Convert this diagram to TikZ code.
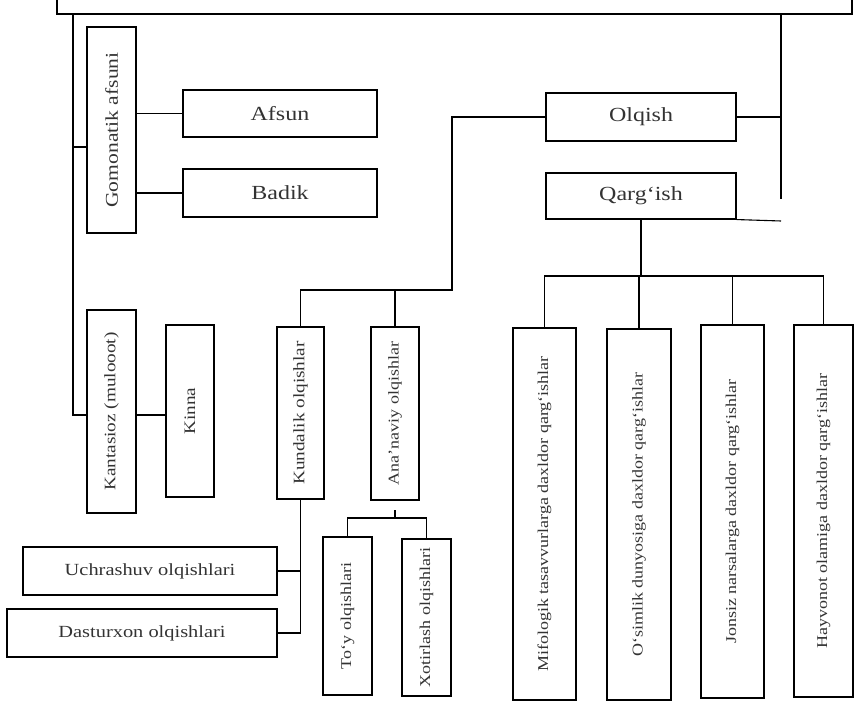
\documentclass[tikz,border=0pt]{standalone}
\usepackage{fontspec}
\setmainfont[FakeStretch=1.2]{Liberation Serif}
\begin{document}
\begin{tikzpicture}[x=1pt,y=-1pt,
  ln/.style={line width=1.1pt, black},
  bx/.style={draw, line width=1.1pt, inner sep=0pt, text=black!80, align=center},
  big/.style={bx, font=\fontsize{20}{22}\selectfont},
  vmed/.style={bx, rotate=90, font=\fontsize{16}{18}\selectfont},
  vsm/.style={bx, rotate=90, font=\fontsize{15}{17}\selectfont},
  hmed/.style={bx, font=\fontsize{17}{19}\selectfont}]
\useasboundingbox (0,0) rectangle (857,703);
% top box (cut by the page edge)
\node[bx, minimum width=795, minimum height=44] (top) at (454.5,-8) {};
% left branch
\node[vmed, font=\fontsize{18}{20}\selectfont, minimum width=206, minimum height=49] (gom) at (111.5,130) {Gomonatik afsuni};
\node[big, minimum width=194, minimum height=47] (afsun) at (280,113.5) {Afsun};
\node[big, minimum width=194, minimum height=48] (badik) at (280,193) {Badik};
\node[vmed, minimum width=203, minimum height=49] (kant) at (111.5,411.5) {Kantasioz (mulooot)};
\node[vmed, minimum width=172, minimum height=48] (kinna) at (190,411) {Kinna};
% olqish / qarg'ish
\node[big, minimum width=190, minimum height=48] (olqish) at (641,117) {Olqish};
\node[big, minimum width=190, minimum height=46] (qargish) at (641,196) {Qarg‘ish};
\node[vmed, minimum width=172, minimum height=47] (kund) at (300.5,413) {Kundalik olqishlar};
\node[vsm, minimum width=173, minimum height=48] (ana) at (395,413.5) {Ana’naviy olqishlar};
\node[hmed, minimum width=254, minimum height=48] (uch) at (150,571) {Uchrashuv olqishlari};
\node[hmed, minimum width=270, minimum height=48] (dast) at (142,633) {Dasturxon olqishlari};
\node[vsm, minimum width=158, minimum height=49] (toy) at (347.5,616) {To‘y olqishlari};
\node[vsm, minimum width=157, minimum height=49] (xot) at (426.5,617.5) {Xotirlash olqishlari};
\node[vsm, minimum width=372, minimum height=63] (mif) at (544.5,514) {Mifologik tasavvurlarga daxldor qarg‘ishlar};
\node[vsm, minimum width=371, minimum height=64] (osim) at (639,514.5) {O‘simlik dunyosiga daxldor qarg‘ishlar};
\node[vsm, minimum width=373, minimum height=63] (jons) at (732.5,511.5) {Jonsiz narsalarga daxldor qarg‘ishlar};
\node[vsm, minimum width=372, minimum height=59] (hayv) at (823.5,511) {Hayvonot olamiga daxldor qarg‘ishlar};
% connectors, left
\coordinate (L0) at (73,14);
\coordinate (Lg) at (73,147);
\coordinate (L1) at (73,415);
\draw[ln] (L0) -- (L1) -- (L1 -| kant.north);
\draw[ln] (Lg) -- (Lg -| gom.north);
\draw[ln] (gom.south |- afsun.west) -- (afsun.west);
\draw[ln] (gom.south |- badik.west) -- (badik.west);
\draw[ln] (kant.south |- L1) -- (kinna.north |- L1);
% connectors, right
\coordinate (R0) at (781,14);
\coordinate (R1) at (781,199);
\coordinate (R2) at (781,221);
\draw[ln] (R0) -- (R1);
\draw[ln] (olqish.east) -- (olqish.east -| R0);
\draw[ln] (qargish.south east) -- (R2);
% olqish branch
\coordinate (J) at (452,290);
\draw[ln] (olqish.west) -| (J) -- (kund.east |- J) -- (kund.east);
\draw[ln] (ana.east |- J) -- (ana.east);
\draw[ln] (kund.west) -- (kund.west |- dast.east) -- (dast.east);
\draw[ln] (uch.east) -- (uch.east -| kund.west);
\coordinate (AB) at (395,518);
\draw[ln] (AB) -- ++(0,-8);
\draw[ln] (toy.east) |- (AB) -| (xot.east);
% qarg'ish branch
\coordinate (QB) at (641,276);
\draw[ln] (qargish.south) -- (QB);
\draw[ln] (mif.east) |- (QB) -| (hayv.east);
\draw[ln] (osim.east) -- (osim.east |- QB);
\draw[ln] (jons.east) -- (jons.east |- QB);
\end{tikzpicture}
\end{document}
